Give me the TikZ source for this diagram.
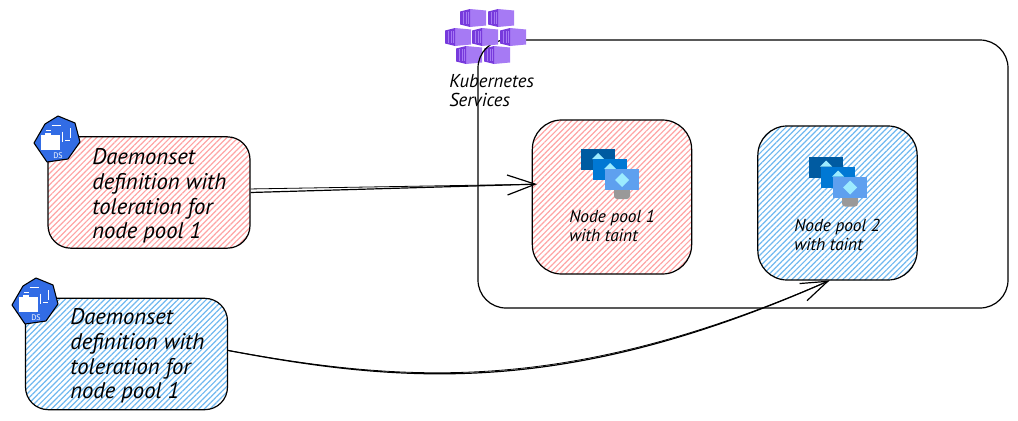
\documentclass[tikz,border=0pt]{standalone}
\usepackage{fontspec}
\setmainfont{PT Sans}
\usetikzlibrary{arrows.meta,positioning,calc,patterns.meta}
\definecolor{hatchred}{HTML}{FFA4A4}
\definecolor{hatchblue}{HTML}{6FB8F0}
\definecolor{cubelight}{HTML}{A67AF4}
\definecolor{cubedark}{HTML}{773ADC}
\definecolor{dsblue}{HTML}{326CE5}
\definecolor{vmdark}{HTML}{005BA1}
\definecolor{vmmid}{HTML}{0078D4}
\definecolor{vmlight}{HTML}{5EA0EF}
\definecolor{vmgem}{HTML}{9CEBFF}
\tikzset{
  cubeicon/.pic={
    \fill[cubelight] (-3,-9) -- (13,-7.5) -- (13,7.5) -- (-3,9) -- cycle;
    \fill[cubedark] (-13,-6.5) -- (-3,-9) -- (-3,9) -- (-13,6.5) -- cycle;
    \foreach \sx in {-10.5,-7.5,-4.8}
      \fill[cubelight] (\sx,-6) rectangle ++(1,12);
  },
  vmicon/.pic={
    \fill[vmdark] (-41,-31) rectangle (-7,-10);
    \fill[vmgem] (-24,-27) -- (-18,-21) -- (-30,-21) -- cycle;
    \fill[vmmid] (-29,-21) rectangle (5,0);
    \fill[vmgem] (-12,-17) -- (-6,-11) -- (-18,-11) -- cycle;
    \fill[gray!80] (-8,10) -- (8,10) -- (8,16) to[out=-90,in=0] (5,19) -- (-5,19) to[out=180,in=-90] (-8,16) -- cycle;
    \fill[vmlight] (-17,-11) rectangle (17,10);
    \fill[vmgem] (0,-7) -- (7,0) -- (0,7) -- (-7,0) -- cycle;
  },
  dsicon/.pic={
    \draw[fill=dsblue,thick,line join=round] (-12,-16) -- (1,-24) -- (18,-17) -- (23,2) -- (11,19) -- (-10,22) -- (-23,3) -- cycle;
    \fill[white] (-16,-5) rectangle (3,10);
    \fill[white] (-12,-7) rectangle (-6,-4);
    \draw[white,line width=.7pt] (-5.3,-14.3) -- (4,-14.3) (-11.3,-9.3) -- (-6,-9.3) (5,-8.3) -- (5,1.7) (8,0) -- (13,0) (13,-11.7) -- (13,-1.7);
    \node[white,font=\fontsize{6}{6}\selectfont] at (1,16) {DS};
  }
}
\begin{document}
\begin{tikzpicture}[x=.75pt,y=-.75pt]
  \tikzstyle{box}=[draw,line width=.9pt,pattern color=hatchred,pattern={Lines[angle=45,distance=3pt,line width=.9pt]}]
  \tikzstyle{dsbox}=[box,rounded corners=17pt,minimum width=151.5pt,minimum height=83.5pt]
  \tikzstyle{poolbox}=[box,rounded corners=22pt,minimum width=119.5pt,minimum height=115.5pt]
  \tikzstyle{bigtext}=[align=left,inner sep=0pt,font=\itshape\fontsize{17}{18.4}\selectfont]
  \tikzstyle{smalltext}=[align=left,inner sep=0pt,font=\itshape\fontsize{13}{14.5}\selectfont]
  \tikzstyle{link}=[line width=.9pt,-{Straight Barb[length=21pt,width=15pt]}]
  \useasboundingbox (0,0) rectangle (1018,421);
  % lower row of the cubes lies under the frame
  \pic at (469,55) {cubeicon};
  \pic at (497,55) {cubeicon};
  \node[draw,line width=.9pt,rounded corners=21pt,minimum width=397.5pt,minimum height=201pt] (aks) at (743,174) {};
  \foreach \cx/\cy in {473/18,501/18,458/37,485/37,513/37}
    \pic at (\cx,\cy) {cubeicon};
  \node[align=left,inner sep=0pt,font=\itshape\fontsize{14}{14.5}\selectfont,anchor=north west] (akstext) at (449,74) {Kubernetes\\Services};
  \node[dsbox] (dsred) at (149,192.5) {};
  \node[dsbox,pattern color=hatchblue] (dsblue) at (126.5,354) {};
  \node[poolbox] (poolred) at (612,197) {};
  \node[poolbox,pattern color=hatchblue] (poolblue) at (837.5,203) {};
  \node[bigtext,anchor=west] (dsredtext) at (92,196) {Daemonset\\definition with\\toleration for\\node pool 1};
  \node[bigtext,anchor=west] (dsbluetext) at (70,356) {Daemonset\\definition with\\toleration for\\node pool 1};
  \node[smalltext,anchor=west] (poolredtext) at (569,226) {Node pool 1\\with taint};
  \node[smalltext,anchor=west] (poolbluetext) at (794,235) {Node pool 2\\with taint};
  \pic at (622,180) {vmicon};
  \pic at (850,187.5) {vmicon};
  \pic at (57,140) {dsicon};
  \pic at (35,302) {dsicon};
  \draw[link,shorten >=-4pt] (dsred.east) -- (poolred.171);
  \draw[line width=.6pt] (dsred.2) -- (poolred.171);
  \draw[link,-{Straight Barb[length=20pt,width=14pt]}] (dsblue.2) .. controls (410,385) and (570,395) .. (poolblue.-96);
  \draw[line width=.6pt] (dsblue.2) .. controls (411,384) and (571,393) .. (poolblue.-96);
\end{tikzpicture}
\end{document}
